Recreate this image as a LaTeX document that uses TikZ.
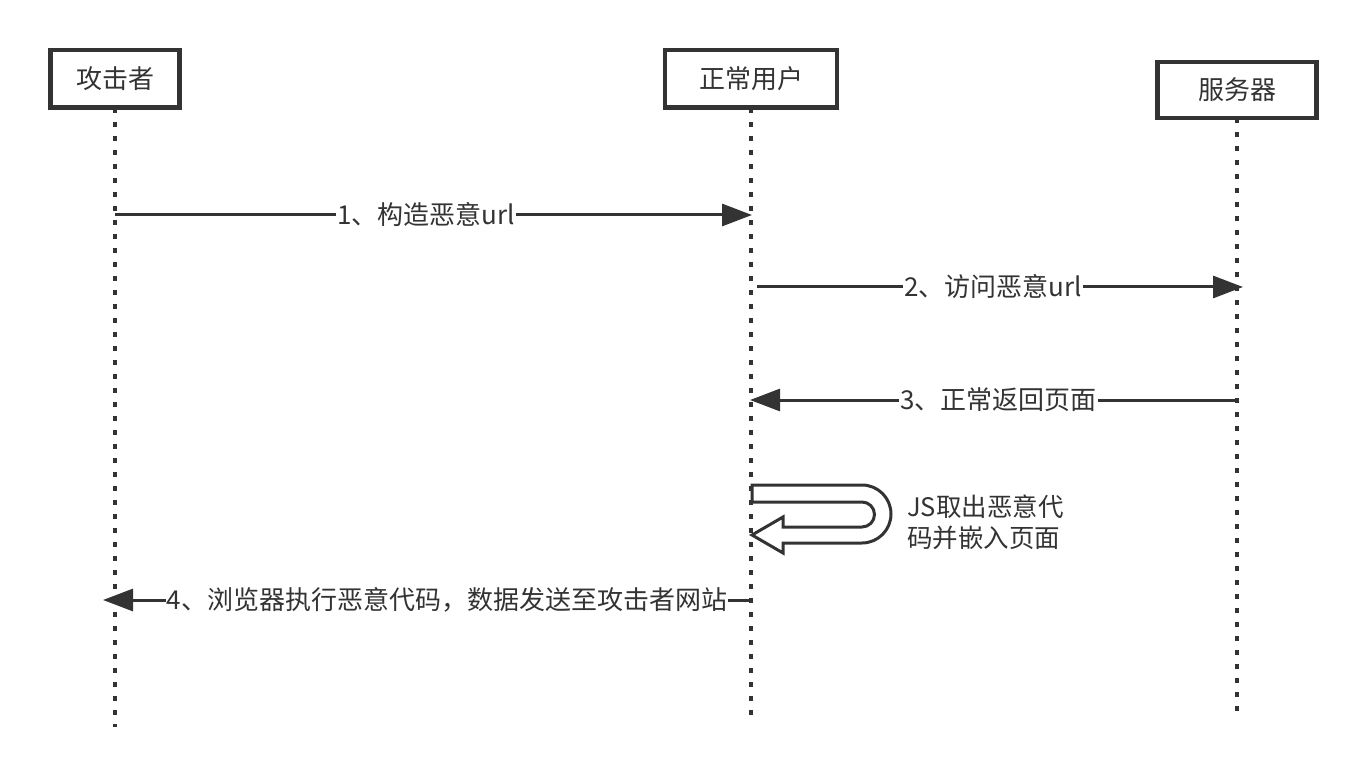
\documentclass[tikz,border=0pt]{standalone}
\usepackage{fontspec}
\setmainfont{Noto Sans CJK SC}
\usetikzlibrary{arrows.meta}
\definecolor{ink}{HTML}{333333}
\tikzset{
  actor/.style={draw=ink, line width=4.5pt, fill=white, inner sep=0pt, text=ink,
    font=\fontsize{26}{30}\selectfont},
  life/.style={draw=ink, line width=3.5pt, dash pattern=on 5pt off 9pt},
  msg/.style={draw=ink, line width=3pt, -{Triangle[length=30pt,width=22pt]}},
  lbl/.style={fill=white, text=ink, inner xsep=1pt, inner ysep=2pt,
    font=\fontsize{26}{30}\selectfont},
  note/.style={text=ink, align=left, inner sep=0pt,
    font=\fontsize{25.5}{31}\selectfont},
}
\begin{document}
\begin{tikzpicture}[x=1pt,y=-1pt]
\useasboundingbox (0,0) rectangle (1366,778);
% lifelines
\coordinate (aTop) at (115,108);
\coordinate (aEnd) at (115,727);
\coordinate (uTop) at (751,108);
\coordinate (uEnd) at (751,717);
\coordinate (sTop) at (1237,118);
\coordinate (sEnd) at (1237,712);
\draw[life] (aTop) -- (aEnd);
\draw[life] (uTop) -- (uEnd);
\draw[life] (sTop) -- (sEnd);
% actors
\node[actor, minimum width=129pt, minimum height=57.5pt] (a) at (115,79) {攻击者};
\node[actor, minimum width=172pt, minimum height=57.5pt] (u) at (751,79) {正常用户};
\node[actor, minimum width=159pt, minimum height=56pt] (s) at (1237,90) {服务器};
% message endpoints
\coordinate (m1s) at (115,215);
\coordinate (m1e) at (752,215);
\coordinate (m2s) at (757,287);
\coordinate (m2e) at (1243,287);
\coordinate (m3s) at (1237,400);
\coordinate (m3e) at (750,400);
\coordinate (m4s) at (751,600);
\coordinate (m4e) at (103,600);
\draw[msg] (m1s) -- node[lbl, pos=0.488] (l1) {1、构造恶意url} (m1e);
\draw[msg] (m2s) -- node[lbl, pos=0.486] (l2) {2、访问恶意url} (m2e);
\draw[msg] (m3s) -- node[lbl, pos=0.49] (l3) {3、正常返回页面} (m3e);
\draw[msg] (m4s) -- node[lbl, pos=0.469] (l4) {4、浏览器执行恶意代码，数据发送至攻击者网站} (m4e);
% self loop (hollow arrow)
\draw[draw=ink, fill=white, line width=3pt, line join=miter]
  (752,485) -- (862,485) arc[start angle=90, end angle=-90, radius=29pt]
  -- (783,543) -- (783,553) -- (752,535) -- (783,517) -- (783,527)
  -- (862,527) arc[start angle=-90, end angle=90, radius=12.5pt]
  -- (752,502) -- cycle;
\node[note, anchor=west] (n) at (907,522) {JS取出恶意代\\码并嵌入页面};
\end{tikzpicture}
\end{document}
